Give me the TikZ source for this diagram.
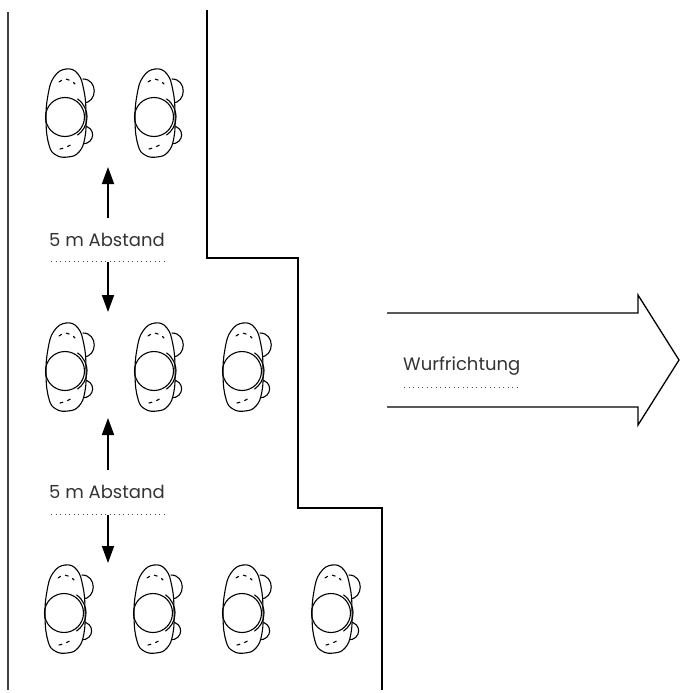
\documentclass[tikz,border=0pt]{standalone}
\usepackage{fontspec}
\setmainfont{Poppins}
\usetikzlibrary{arrows.meta}
\begin{document}
\begin{tikzpicture}[x=1pt,y=-1pt,
  outline/.style={line width=1.1pt, line join=round, line cap=round},
  wall/.style={line width=2.4pt, line join=miter},
  side/.style={line width=1.2pt, black!75},
  gaparrow/.style={line width=1.8pt, -{Triangle[length=17pt,width=12pt]}},
  dots/.style={line width=0.9pt, black!70, dash pattern=on 0.9pt off 3.6pt},
  lbl/.style={font=\fontsize{18}{20}\selectfont, text=black!80, inner sep=0pt},
  bigarrow/.style={line width=1.3pt, line join=miter},
  person/.pic={
    % arms
    \draw[outline] (17,-34) .. controls (32,-34) and (32,-10) .. (17,-10);
    \draw[outline] (17,13) .. controls (30,13) and (30,31) .. (16,31);
    % body seen from above
    \draw[outline, fill=white] plot[smooth cycle, tension=0.75] coordinates
      {(0,-44) (12,-39) (18,-22) (20,0) (19,24) (13,39) (2,44) (-10,42) (-17,32) (-20,8) (-18,-18) (-12,-36)};
    % hair marks
    \draw[outline, dash pattern=on 3pt off 5pt] (-7,-31) .. controls (-3,-35) and (4,-35) .. (9,-29);
    \draw[outline, dash pattern=on 3pt off 5pt] (-6,36) .. controls (-1,35) and (4,33) .. (7,30);
    % head and shoulder line
    \draw[outline] (-1,4) circle (19.5);
    \draw[outline] (-1,4) ++(-55:22) arc (-55:55:22);
  }]
\useasboundingbox (0,0) rectangle (680,693);

% side boundary and stepped throwing line
\draw[side] (8,12) -- (8,690);
\draw[wall] (207,10) -- (207,258) -- (298,258) -- (298,508) -- (382,508) -- (382,690);

% rows of throwers
\pic (p11) at (66,113) {person};
\pic (p12) at (155,113) {person};

\pic (p21) at (66,367) {person};
\pic (p22) at (155,367) {person};
\pic (p23) at (243,367) {person};

\pic (p31) at (65,609) {person};
\pic (p32) at (154,609) {person};
\pic (p33) at (243,609) {person};
\pic (p34) at (332,609) {person};

% distance between the first and second row
\node[lbl, anchor=base] (d1) at (107,246) {5 m Abstand};
\coordinate (d1up) at (108,167);
\coordinate (d1dn) at (108,312);
\coordinate (d1a) at (108,218);
\coordinate (d1b) at (108,262);
\draw[dots] (51,261) -- (165,261);
\draw[gaparrow] (d1a) -- (d1up);
\draw[gaparrow] (d1b) -- (d1dn);

% distance between the second and third row
\node[lbl, anchor=base] (d2) at (107,498) {5 m Abstand};
\coordinate (d2up) at (108,418);
\coordinate (d2dn) at (108,563);
\coordinate (d2a) at (108,470);
\coordinate (d2b) at (108,515);
\draw[dots] (51,514) -- (165,514);
\draw[gaparrow] (d2a) -- (d2up);
\draw[gaparrow] (d2b) -- (d2dn);

% throwing direction
\draw[bigarrow] (387,313) -- (638,313) -- (638,295) -- (679,360) -- (638,425) -- (638,407) -- (387,407);
\node[lbl, anchor=base west] (dir) at (403,370) {Wurfrichtung};
\draw[dots] (404,387) -- (518,387);
\end{tikzpicture}
\end{document}
